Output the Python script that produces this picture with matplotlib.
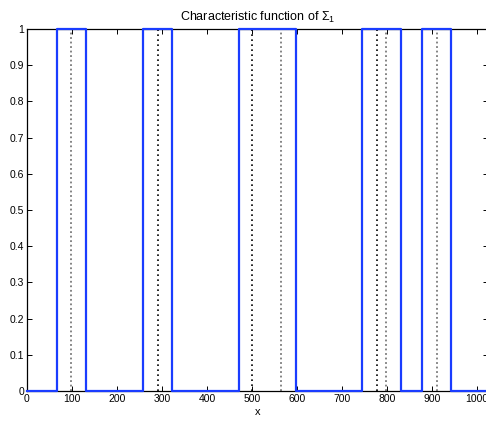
import matplotlib
matplotlib.use("Agg")
import matplotlib.pyplot as plt
import numpy as np

# Data
intervals = [(66, 131), (257, 322), (470, 598), (744, 830), (878, 943)]
black_dotted = [290, 501, 777]
gray_dotted = [98, 565, 797, 910]
x_ticks = list(range(0, 1001, 100))
y_ticks = [round(0.1 * i, 1) for i in range(11)]
x_max = 1024

plt.rcParams['font.family'] = ['Liberation Sans', 'DejaVu Sans']
plt.rcParams['mathtext.fontset'] = 'custom'
plt.rcParams['mathtext.rm'] = 'Liberation Sans'
plt.rcParams['mathtext.it'] = 'Liberation Sans:italic'

fig = plt.figure(figsize=(4.86, 4.22), dpi=100)
ax = fig.add_axes([27 / 486, 1 - 391 / 422, (487.8 - 27) / 486, 362 / 422])

# step function
xs = [0]
ys = [0]
for a, b in intervals:
    xs += [a, a, b, b]
    ys += [0, 1, 1, 0]
xs.append(x_max)
ys.append(0)

for xv in gray_dotted:
    ax.plot([xv, xv], [0, 1], linestyle=(0, (1, 1.5)), color='#7a7a7a', linewidth=1.3)
for xv in black_dotted:
    ax.plot([xv, xv], [0, 1], linestyle=(0, (1, 2)), color='black', linewidth=1.2)

ax.plot(xs, ys, color='#1a3cff', linewidth=1.6, clip_on=False, zorder=5)

ax.set_xlim(0, x_max)
ax.set_ylim(0, 1)
ax.set_xticks(x_ticks)
ax.set_yticks(y_ticks)
ax.set_yticklabels(['0'] + [f'{v:g}' for v in y_ticks[1:]])
ax.tick_params(direction='in', top=True, right=True, length=3.5, width=0.7,
               labelsize=7.5, pad=2)
for s in ax.spines.values():
    s.set_linewidth(0.9)
ax.set_xlabel('x', fontsize=8, labelpad=2)
ax.set_title(r'Characteristic function of $\Sigma_\mathrm{1}$', fontsize=9, pad=6)

fig.savefig('out.png', dpi=100)
